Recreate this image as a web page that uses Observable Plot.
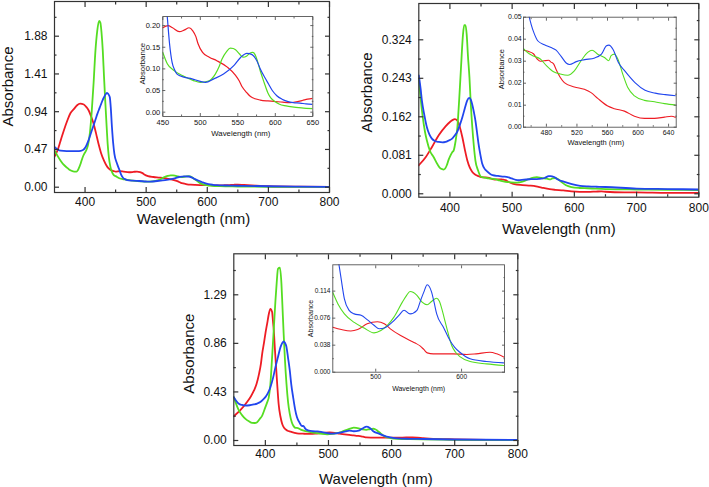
<!DOCTYPE html>
<html><head><meta charset="utf-8">
<script src="https://cdn.jsdelivr.net/npm/d3@7"></script>
<script src="https://cdn.jsdelivr.net/npm/@observablehq/plot@0.6"></script>
<style>
html,body{margin:0;padding:0;background:#fff;}
#chart{position:relative;width:709px;height:487px;overflow:hidden;background:#fff;}
#chart svg{position:absolute;}
</style></head><body><div id="chart"></div>
<script>
// ---------- Panel 1 (top left) ----------
const p1RedLeft = [[350,0.38],[355,0.46],[360,0.58],[365,0.70],[371,0.83],[376,0.92],[382,0.975],[387,1.02],[392,1.04],[398,1.03],[403,0.99],[406,0.955],[410,0.88],[414,0.79],[418,0.67],[422,0.54],[426,0.43],[431,0.33],[435,0.27],[439,0.23],[443,0.21],[447,0.2]];
const p1RedInset = [[450,0.195],[457,0.2],[463,0.195],[472,0.186],[479,0.19],[485,0.195],[490,0.188],[494,0.175],[497,0.158],[503,0.138],[512,0.127],[522,0.119],[536,0.104],[547,0.085],[552,0.072],[556,0.058],[562,0.045],[567,0.036],[573,0.031],[580,0.028],[590,0.026],[598,0.025],[610,0.023],[620,0.022],[628,0.024],[636,0.027],[643,0.03],[650,0.032]];
const p1RedRight = [[660,0.028],[680,0.02],[700,0.012],[750,0.006],[800,0.004]];
const p1GreenLeft = [[350,0.46],[355,0.39],[360,0.33],[365,0.28],[371,0.24],[376,0.21],[382,0.195],[386,0.195],[390,0.24],[393,0.30],[396,0.37],[399,0.42],[402,0.46],[405,0.53],[408,0.68],[411,0.95],[414,1.30],[417,1.70],[420,1.95],[423,2.07],[425,2.05],[427,1.92],[429,1.70],[431,1.38],[433,1.08],[435,0.80],[437,0.54],[439,0.37],[441.6,0.25],[444,0.19],[447,0.15]];
const p1GreenInset = [[450,0.138],[456,0.112],[465,0.096],[478,0.083],[491,0.073],[500,0.069],[511,0.072],[520,0.088],[525,0.105],[529,0.123],[535,0.140],[540,0.148],[544,0.147],[547,0.144],[552,0.135],[557,0.127],[562,0.13],[566,0.136],[570,0.138],[573,0.133],[576,0.119],[580,0.095],[585,0.069],[590,0.045],[594,0.033],[600,0.024],[605,0.019],[612,0.015],[620,0.013],[635,0.01],[650,0.008]];
const p1GreenRight = [[660,0.007],[700,0.005],[800,0.003]];
const p1BlueLeft = [[350,0.50],[355,0.47],[360,0.455],[370,0.45],[380,0.45],[390,0.45],[396,0.46],[401,0.50],[405,0.57],[409,0.66],[413,0.75],[417,0.84],[420,0.91],[424,0.99],[428,1.07],[431,1.12],[434,1.16],[436,1.175],[438,1.16],[440.5,1.12],[442,1.0],[444,0.75],[446,0.55],[448,0.415]];
const p1BlueInset = [[452,0.30],[456,0.22],[459,0.158],[462.4,0.115],[466,0.097],[469,0.088],[478,0.081],[489,0.077],[500,0.071],[507,0.069],[518,0.077],[531,0.088],[545,0.108],[554,0.127],[562,0.136],[569,0.133],[575,0.12],[580,0.1],[586,0.08],[591,0.065],[596,0.05],[602,0.038],[609,0.03],[616,0.025],[624,0.022],[633,0.021],[641,0.019],[650,0.018]];
const p1BlueRight = [[660,0.017],[700,0.012],[750,0.008],[800,0.005]];
const p1YTicks = [0, 0.47, 0.94, 1.41, 1.88];
const p1YMinor = [0.235, 0.705, 1.175, 1.645, 2.115];
const p1InsetYTicks = [0, 0.05, 0.10, 0.15, 0.20];
const p1InsetYMinor = [0.025, 0.075, 0.125, 0.175];
const p1InsetXTicks = [450, 500, 550, 600, 650];
const p1InsetXMinor = [475, 525, 575, 625];

// ---------- Panel 2 (top right) ----------
const p2RedLeft = [[350,0.06],[361,0.077],[371,0.098],[382,0.123],[393,0.142],[400,0.151],[404,0.155],[408,0.157],[412,0.154],[416,0.14],[420,0.119],[424,0.093],[428,0.07],[432,0.055],[436,0.046],[441,0.04],[446,0.037]];
const p2RedInset = [[450,0.035],[456,0.0345],[463,0.0334],[468,0.031],[472,0.030],[477,0.0302],[483,0.0304],[486,0.0296],[489.4,0.0288],[493,0.026],[498,0.0227],[503.5,0.0203],[516.6,0.0183],[529.7,0.0172],[538.5,0.0157],[547.2,0.0131],[560.3,0.0096],[569.1,0.0084],[582.2,0.0073],[595.3,0.005],[608.5,0.004],[621.6,0.004],[634.7,0.0046],[643.5,0.005],[650,0.0043]];
const p2RedRight = [[680,0.003],[700,0.003],[750,0.002],[800,0.002]];
const p2GreenLeft = [[350,0.242],[353,0.2],[356,0.165],[360,0.13],[363,0.112],[368,0.09],[374,0.077],[380,0.062],[385,0.053],[390,0.051],[395,0.06],[398,0.072],[401,0.081],[404,0.088],[406,0.091],[409,0.11],[412,0.14],[415,0.2],[418,0.27],[421,0.335],[423,0.355],[425,0.355],[427,0.335],[429,0.29],[431.4,0.245],[433.5,0.19],[436,0.14],[438.5,0.1],[441,0.07],[445,0.05]];
const p2GreenInset = [[450,0.0357],[455,0.034],[462,0.0325],[472,0.031],[480,0.028],[489.4,0.0252],[498,0.0242],[507.9,0.0236],[516.6,0.0256],[525.4,0.0302],[534.1,0.034],[539.8,0.035],[547.2,0.0332],[556,0.0317],[561.7,0.0302],[564.7,0.0325],[569.1,0.0332],[573.5,0.031],[580,0.0241],[586.6,0.018],[595.3,0.0142],[608.5,0.0122],[621.6,0.0116],[634.7,0.0107],[650,0.01]];
const p2GreenRight = [[700,0.009],[750,0.0085],[800,0.008]];
const p2BlueLeft = [[350,0.249],[353,0.22],[355,0.196],[359,0.165],[363,0.14],[367,0.125],[371,0.116],[376,0.111],[382,0.109],[388,0.108],[393,0.109],[398,0.112],[403.6,0.116],[408,0.123],[411.6,0.13],[416,0.145],[420,0.161],[424,0.18],[427.7,0.196],[431,0.202],[433.5,0.198],[435.7,0.189],[438.5,0.172],[441,0.154],[443.5,0.13],[446,0.105],[449,0.082],[452,0.063],[456,0.052]];
const p2BlueInset = [[452,0.062],[455,0.055],[457.6,0.05],[459.8,0.047],[464.2,0.0424],[468.6,0.0393],[477.4,0.0375],[486.2,0.0362],[492.7,0.035],[499.3,0.0322],[505.9,0.0292],[510.3,0.0285],[519.1,0.0298],[530.1,0.0307],[543.3,0.0315],[552.1,0.0332],[558.7,0.037],[561.8,0.0373],[567.5,0.0352],[574.1,0.0295],[582.9,0.0255],[596,0.0203],[609.2,0.0168],[622.4,0.0155],[635.6,0.0148],[650,0.0143]];
const p2BlueRight = [[700,0.011],[750,0.01],[800,0.009]];
const p2YTicks = [0, 0.081, 0.162, 0.243, 0.324];
const p2YMinor = [0.0405, 0.1215, 0.2025, 0.2835, 0.3645];
const p2InsetYTicks = [0, 0.01, 0.02, 0.03, 0.04, 0.05];
const p2InsetYMinor = [0.005, 0.015, 0.025, 0.035, 0.045];
const p2InsetXTicks = [480, 520, 560, 600, 640];
const p2InsetXMinor = [460, 500, 540, 580, 620];

// ---------- Panel 3 (bottom) ----------
const p3RedLeft = [[350,0.215],[360,0.266],[371,0.34],[377,0.39],[382,0.443],[386,0.5],[390,0.59],[393,0.68],[395,0.77],[398,0.87],[400,0.945],[403,1.04],[405.5,1.12],[408,1.166],[410.7,1.137],[412,1.06],[413.4,0.974],[415,0.82],[417,0.65],[419,0.48],[421,0.325],[424,0.21],[426.6,0.148],[430,0.11],[434.5,0.089],[440,0.078],[445,0.07]];
const p3RedInset = [[450,0.0633],[460,0.06],[471,0.058],[479,0.06],[490,0.068],[502,0.071],[510,0.068],[517,0.061],[529,0.0516],[540,0.0446],[546,0.041],[552,0.0366],[556,0.032],[560,0.0272],[567,0.0258],[590,0.0258],[606,0.0249],[617,0.0258],[633,0.028],[641,0.0258],[650,0.021]];
const p3RedRight = [[660,0.017],[700,0.01],[750,0.006],[800,0.004]];
const p3GreenLeft = [[350,0.384],[354,0.32],[358,0.266],[363,0.225],[368.5,0.192],[374,0.17],[379,0.156],[383,0.155],[387,0.162],[391,0.19],[395,0.221],[400,0.295],[403,0.34],[405.5,0.384],[408,0.5],[410.7,0.738],[413.5,1.0],[416,1.24],[418,1.40],[420,1.52],[423,1.53],[425.5,1.387],[427,1.2],[429,0.945],[431,0.72],[433.5,0.50],[436,0.34],[438.7,0.236],[442,0.16],[445,0.125],[448,0.112]];
const p3GreenInset = [[450,0.112],[456,0.096],[463.5,0.082],[475,0.07],[486.5,0.062],[498,0.0553],[506,0.0586],[513.5,0.0657],[521,0.077],[531,0.0985],[536,0.108],[540,0.1135],[544,0.112],[548,0.108],[554,0.0985],[560,0.0948],[565,0.0995],[571,0.104],[574,0.1],[577,0.089],[580,0.075],[583,0.061],[588.5,0.0375],[593,0.028],[598,0.022],[610,0.015],[629,0.0117],[650,0.0094]];
const p3GreenRight = [[700,0.006],[800,0.003]];
const p3BlueLeft = [[350,0.384],[354,0.35],[358,0.325],[363,0.315],[368.5,0.31],[375,0.312],[381.7,0.319],[387,0.327],[392,0.34],[396,0.36],[400,0.384],[404,0.42],[408,0.472],[412,0.55],[416,0.65],[420,0.74],[424,0.827],[427,0.865],[429,0.877],[431,0.865],[433.5,0.827],[436,0.73],[438.7,0.62],[441,0.5],[444,0.384],[447,0.28],[450,0.207],[454,0.16],[458,0.128]];
const p3BlueInset = [[456,0.16],[458,0.145],[460,0.129],[463.5,0.103],[469,0.087],[475,0.082],[483,0.08],[490,0.074],[498,0.066],[504,0.061],[511.5,0.063],[519,0.07],[527,0.08],[533,0.087],[540,0.082],[548,0.087],[552,0.1],[556,0.1126],[560,0.123],[565,0.113],[568,0.098],[571,0.082],[579,0.063],[586.5,0.0446],[592,0.035],[598,0.028],[610,0.0188],[629,0.015],[649,0.0131]];
const p3BlueRight = [[700,0.009],[800,0.005]];
const p3YTicks = [0, 0.43, 0.86, 1.29];
const p3YMinor = [0.215, 0.645, 1.075, 1.505];
const p3InsetYTicks = [0, 0.038, 0.076, 0.114];
const p3InsetYMinor = [0.019, 0.057, 0.095, 0.133];
const p3InsetXTicks = [500, 600];
const p3InsetXMinor = [550];

// shared main x ticks
const mainXTicks = [400, 500, 600, 700, 800];
const mainXMinor = [450, 550, 650, 750];

const RED = "#ee1c24", GREEN = "#55dd22", BLUE = "#2146ee";
const FONT = "'Liberation Sans', Arial, Helvetica, sans-serif";

function pts(a) { return a.map(([x, y]) => ({x, y})); }
function joinMain(left, inset, right) {
  const last = left[left.length - 1][0];
  return left.concat(inset.filter(d => d[0] > last), right);
}

function panel(c) {
  const hide = () => "";
  const marks = [];
  for (const [data, color] of c.series) {
    marks.push(Plot.line(pts(data), {x: "x", y: "y", stroke: color, strokeWidth: c.sw, curve: "monotone-x", clip: true}));
  }
  marks.push(Plot.frame({stroke: c.frame, strokeWidth: c.fw}));
  const common = {stroke: c.frame, strokeWidth: c.fw, label: null};
  marks.push(Plot.axisX({...common, anchor: "bottom", ticks: c.xMajor, tickSize: -c.tick, tickPadding: c.gapX + c.tick, tickFormat: c.xFmt, fontSize: c.fs, fill: "#111"}));
  marks.push(Plot.axisX({...common, anchor: "bottom", ticks: c.xMinor, tickSize: -c.tick / 2, tickFormat: hide}));
  marks.push(Plot.axisX({...common, anchor: "top", ticks: c.xMajor, tickSize: -c.tick, tickFormat: hide}));
  marks.push(Plot.axisX({...common, anchor: "top", ticks: c.xMinor, tickSize: -c.tick / 2, tickFormat: hide}));
  marks.push(Plot.axisY({...common, anchor: "left", ticks: c.yMajor, tickSize: -c.tick, tickPadding: c.gapY + c.tick, tickFormat: c.yFmt, fontSize: c.fs, fill: "#111"}));
  marks.push(Plot.axisY({...common, anchor: "left", ticks: c.yMinor, tickSize: -c.tick / 2, tickFormat: hide}));
  marks.push(Plot.axisY({...common, anchor: "right", ticks: c.yMajor, tickSize: -c.tick, tickFormat: hide}));
  marks.push(Plot.axisY({...common, anchor: "right", ticks: c.yMinor, tickSize: -c.tick / 2, tickFormat: hide}));
  marks.push(Plot.text(["Wavelength (nm)"], {text: d => d, frameAnchor: "bottom", dx: c.xt[0], dy: c.xt[1], textAnchor: "middle", lineAnchor: "middle", fontSize: c.tfs, fill: "#111"}));
  marks.push(Plot.text(["Absorbance"], {text: d => d, frameAnchor: "left", dx: c.yt[0], dy: c.yt[1], rotate: -90, textAnchor: "middle", lineAnchor: "middle", fontSize: c.tfs, fill: "#111"}));
  const svg = Plot.plot({
    width: c.width, height: c.height,
    marginTop: c.m[0], marginRight: c.m[1], marginBottom: c.m[2], marginLeft: c.m[3],
    x: {domain: c.xDomain}, y: {domain: c.yDomain},
    style: {fontFamily: FONT, color: "#222", background: "transparent", overflow: "visible"},
    marks
  });
  svg.style.left = c.left + "px";
  svg.style.top = c.top + "px";
  document.getElementById("chart").appendChild(svg);
}

const intFmt = d => String(d);
const f2 = d => d.toFixed(2);
const f3 = d => d.toFixed(3);

// Panel 1 main
panel({left: 0, top: 0, width: 340, height: 228, m: [1, 11, 36, 54],
  xDomain: [350, 800], yDomain: [-0.066, 2.312],
  xMajor: mainXTicks, xMinor: mainXMinor, yMajor: p1YTicks, yMinor: p1YMinor, xFmt: intFmt, yFmt: f2,
  series: [[joinMain(p1RedLeft, p1RedInset, p1RedRight), RED], [joinMain(p1GreenLeft, p1GreenInset, p1GreenRight), GREEN], [joinMain(p1BlueLeft, p1BlueInset, p1BlueRight), BLUE]],
  sw: 1.8, frame: "#333", fw: 1.2, tick: 5, gapX: 5, gapY: 7, fs: 12, tfs: 15, xt: [1.5, 27], yt: [-46, -10.5]});
// Panel 1 inset
panel({left: 125, top: 8, width: 195, height: 135, m: [8, 7.7, 27, 37.3],
  xDomain: [450, 650], yDomain: [-0.01, 0.221],
  xMajor: p1InsetXTicks, xMinor: p1InsetXMinor, yMajor: p1InsetYTicks, yMinor: p1InsetYMinor, xFmt: intFmt, yFmt: f2,
  series: [[p1RedInset, RED], [p1GreenInset, GREEN], [p1BlueInset, BLUE]],
  sw: 1.2, frame: "#555", fw: 0.9, tick: 3, gapX: 3, gapY: 2.5, fs: 7.5, tfs: 7.8, xt: [3, 16.7], yt: [-20.6, -2.7]});

// Panel 2 main
panel({left: 340, top: 0, width: 369, height: 240, m: [3, 10.7, 43.3, 78.3],
  xDomain: [350, 800], yDomain: [-0.0072, 0.4004],
  xMajor: mainXTicks, xMinor: mainXMinor, yMajor: p2YTicks, yMinor: p2YMinor, xFmt: intFmt, yFmt: f3,
  series: [[joinMain(p2RedLeft, p2RedInset, p2RedRight), RED], [joinMain(p2GreenLeft, p2GreenInset, p2GreenRight), GREEN], [joinMain(p2BlueLeft, p2BlueInset, p2BlueRight), BLUE]],
  sw: 1.8, frame: "#333", fw: 1.2, tick: 5, gapX: 6, gapY: 7, fs: 12, tfs: 15, xt: [0, 31.6], yt: [-51.6, -8]});
// Panel 2 inset
panel({left: 480, top: 8, width: 205, height: 150, m: [8.7, 9.3, 31.3, 43],
  xDomain: [450, 650], yDomain: [0, 0.05],
  xMajor: p2InsetXTicks, xMinor: p2InsetXMinor, yMajor: p2InsetYTicks, yMinor: p2InsetYMinor, xFmt: intFmt, yFmt: f2,
  series: [[p2RedInset, RED], [p2GreenInset, GREEN], [p2BlueInset, BLUE]],
  sw: 1.1, frame: "#555", fw: 0.9, tick: 3, gapX: 2.5, gapY: 1.8, fs: 7, tfs: 7.5, xt: [-4, 15], yt: [-21.5, -3]});

// Panel 3 main
panel({left: 175, top: 245, width: 350, height: 242, m: [8.3, 7.7, 42, 58.3],
  xDomain: [350, 800], yDomain: [-0.0443, 1.653],
  xMajor: mainXTicks, xMinor: mainXMinor, yMajor: p3YTicks, yMinor: p3YMinor, xFmt: intFmt, yFmt: f2,
  series: [[joinMain(p3RedLeft, p3RedInset, p3RedRight), RED], [joinMain(p3GreenLeft, p3GreenInset, p3GreenRight), GREEN], [joinMain(p3BlueLeft, p3BlueInset, p3BlueRight), BLUE]],
  sw: 1.8, frame: "#333", fw: 1.2, tick: 5, gapX: 4, gapY: 7, fs: 12, tfs: 15, xt: [0, 33.3], yt: [-45, 4]});
// Panel 3 inset
panel({left: 290, top: 255, width: 222, height: 145, m: [9.3, 8, 28.3, 42.3],
  xDomain: [450, 650], yDomain: [0, 0.151],
  xMajor: p3InsetXTicks, xMinor: p3InsetXMinor, yMajor: p3InsetYTicks, yMinor: p3InsetYMinor, xFmt: intFmt, yFmt: f3,
  series: [[p3RedInset, RED], [p3GreenInset, GREEN], [p3BlueInset, BLUE]],
  sw: 1.1, frame: "#555", fw: 0.9, tick: 3, gapX: 2.5, gapY: 2.3, fs: 6.5, tfs: 7, xt: [0, 16.6], yt: [-22.3, 0]});
</script></body></html>
